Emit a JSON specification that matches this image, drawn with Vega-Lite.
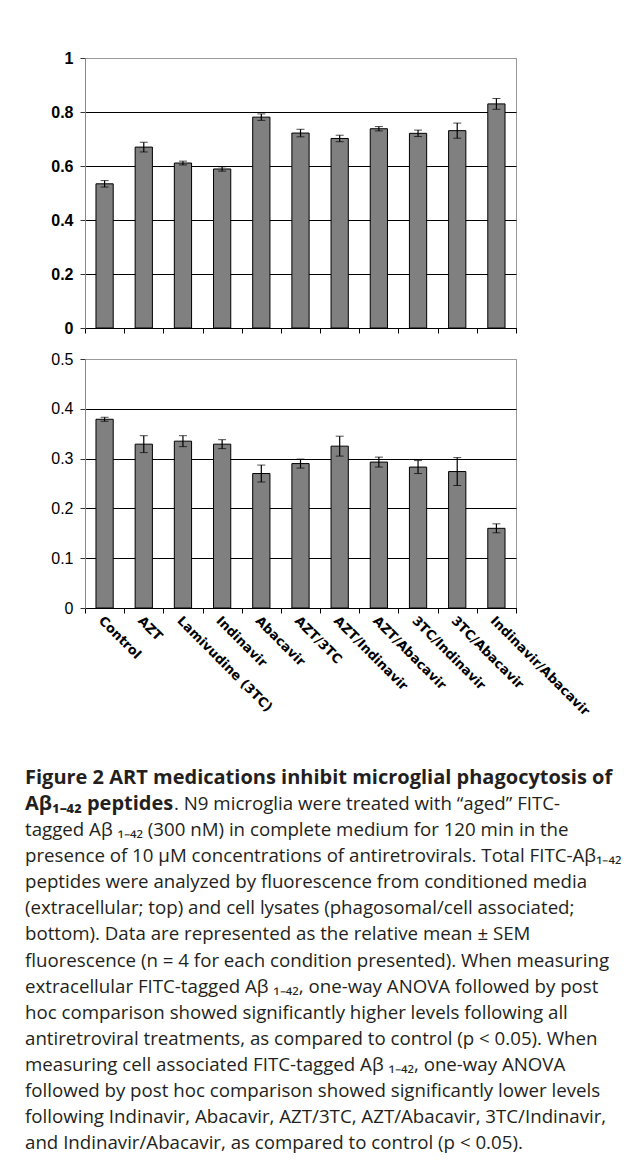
{
  "$schema": "https://vega.github.io/schema/vega-lite/v6.json",
  "background": "white",
  "padding": {"left": 25, "top": 49, "right": 0, "bottom": 0},
  "datasets": {
    "extracellular": [
      {"treatment": "Control", "mean": 0.534, "sem": 0.012},
      {"treatment": "AZT", "mean": 0.670, "sem": 0.018},
      {"treatment": "Lamivudine (3TC)", "mean": 0.611, "sem": 0.007},
      {"treatment": "Indinavir", "mean": 0.589, "sem": 0.008},
      {"treatment": "Abacavir", "mean": 0.781, "sem": 0.012},
      {"treatment": "AZT/3TC", "mean": 0.722, "sem": 0.014},
      {"treatment": "AZT/Indinavir", "mean": 0.702, "sem": 0.012},
      {"treatment": "AZT/Abacavir", "mean": 0.738, "sem": 0.008},
      {"treatment": "3TC/Indinavir", "mean": 0.721, "sem": 0.012},
      {"treatment": "3TC/Abacavir", "mean": 0.731, "sem": 0.028},
      {"treatment": "Indinavir/Abacavir", "mean": 0.830, "sem": 0.020}
    ],
    "cellassociated": [
      {"treatment": "Control", "mean": 0.379, "sem": 0.004},
      {"treatment": "AZT", "mean": 0.329, "sem": 0.017},
      {"treatment": "Lamivudine (3TC)", "mean": 0.335, "sem": 0.011},
      {"treatment": "Indinavir", "mean": 0.329, "sem": 0.009},
      {"treatment": "Abacavir", "mean": 0.270, "sem": 0.017},
      {"treatment": "AZT/3TC", "mean": 0.290, "sem": 0.009},
      {"treatment": "AZT/Indinavir", "mean": 0.325, "sem": 0.020},
      {"treatment": "AZT/Abacavir", "mean": 0.293, "sem": 0.010},
      {"treatment": "3TC/Indinavir", "mean": 0.283, "sem": 0.013},
      {"treatment": "3TC/Abacavir", "mean": 0.274, "sem": 0.028},
      {"treatment": "Indinavir/Abacavir", "mean": 0.160, "sem": 0.009}
    ],
    "caption": [
      {"line": 1, "kind": "title", "text": "Figure 2 ART medications inhibit microglial phagocytosis of"},
      {"line": 2, "kind": "title", "text": "Aβ₁₋₄₂ peptides"},
      {"line": 2, "kind": "cont", "text": ". N9 microglia were treated with “aged” FITC-"},
      {"line": 3, "kind": "body", "text": "tagged Aβ ₁₋₄₂ (300 nM) in complete medium for 120 min in the"},
      {"line": 4, "kind": "body", "text": "presence of 10 µM concentrations of antiretrovirals. Total FITC-Aβ₁₋₄₂"},
      {"line": 5, "kind": "body", "text": "peptides were analyzed by fluorescence from conditioned media"},
      {"line": 6, "kind": "body", "text": "(extracellular; top) and cell lysates (phagosomal/cell associated;"},
      {"line": 7, "kind": "body", "text": "bottom). Data are represented as the relative mean ± SEM"},
      {"line": 8, "kind": "body", "text": "fluorescence (n = 4 for each condition presented). When measuring"},
      {"line": 9, "kind": "body", "text": "extracellular FITC-tagged Aβ ₁₋₄₂, one-way ANOVA followed by post"},
      {"line": 10, "kind": "body", "text": "hoc comparison showed significantly higher levels following all"},
      {"line": 11, "kind": "body", "text": "antiretroviral treatments, as compared to control (p < 0.05). When"},
      {"line": 12, "kind": "body", "text": "measuring cell associated FITC-tagged Aβ ₁₋₄₂, one-way ANOVA"},
      {"line": 13, "kind": "body", "text": "followed by post hoc comparison showed significantly lower levels"},
      {"line": 14, "kind": "body", "text": "following Indinavir, Abacavir, AZT/3TC, AZT/Abacavir, 3TC/Indinavir,"},
      {"line": 15, "kind": "body", "text": "and Indinavir/Abacavir, as compared to control (p < 0.05)."}
    ]
  },
  "concat": [
    {
      "vconcat": [
        {
          "width": 431,
          "height": 270,
          "data": {"name": "extracellular"},
          "encoding": {
            "x": {
              "field": "treatment", "type": "nominal", "sort": null,
              "scale": {"paddingInner": 0, "paddingOuter": 0},
              "axis": {"labels": false, "title": null, "tickBand": "extent", "tickSize": 5, "tickColor": "black", "domainColor": "black", "grid": false}
            }
          },
          "layer": [
            {
              "mark": {"type": "bar", "width": {"band": 0.44}, "fill": "#808080", "stroke": "black", "strokeWidth": 1},
              "encoding": {
                "y": {
                  "field": "mean", "type": "quantitative",
                  "scale": {"domain": [0, 1]},
                  "axis": {
                    "title": null,
                    "values": [0, 0.2, 0.4, 0.6, 0.8, 1], "format": "~g",
                    "grid": true,
                    "gridColor": {"condition": {"test": "datum.value >= 1", "value": "#999999"}, "value": "black"},
                    "domainColor": "#888888", "tickColor": "#333333", "tickSize": 5, "labelPadding": 7,
                    "labelFont": "Liberation Sans", "labelFontWeight": "bold", "labelFontSize": 16, "labelColor": "black"
                  }
                }
              }
            },
            {
              "mark": {"type": "errorbar", "color": "black", "ticks": {"size": 8, "color": "black"}, "rule": {"strokeWidth": 1.2}},
              "encoding": {
                "y": {"field": "mean", "type": "quantitative", "title": null},
                "yError": {"field": "sem"}
              }
            }
          ]
        },
        {
          "width": 431,
          "height": 249,
          "data": {"name": "cellassociated"},
          "encoding": {
            "x": {
              "field": "treatment", "type": "nominal", "sort": null,
              "scale": {"paddingInner": 0, "paddingOuter": 0},
              "axis": {
                "title": null, "tickBand": "extent", "tickSize": 5, "tickColor": "black", "domainColor": "black", "grid": false,
                "labelAngle": 45, "labelFont": "DejaVu Sans", "labelFontWeight": "bold", "labelFontSize": 13, "labelColor": "black", "labelPadding": 1
              }
            }
          },
          "layer": [
            {
              "mark": {"type": "bar", "width": {"band": 0.44}, "fill": "#808080", "stroke": "black", "strokeWidth": 1},
              "encoding": {
                "y": {
                  "field": "mean", "type": "quantitative",
                  "scale": {"domain": [0, 0.5]},
                  "axis": {
                    "title": null,
                    "values": [0, 0.1, 0.2, 0.3, 0.4, 0.5], "format": "~g",
                    "grid": true,
                    "gridColor": {"condition": {"test": "datum.value >= 0.5", "value": "#999999"}, "value": "black"},
                    "domainColor": "#888888", "tickColor": "#333333", "tickSize": 5, "labelPadding": 7,
                    "labelFont": "Liberation Sans", "labelFontWeight": "normal", "labelFontSize": 16, "labelColor": "black"
                  }
                }
              }
            },
            {
              "mark": {"type": "errorbar", "color": "black", "ticks": {"size": 8, "color": "black"}, "rule": {"strokeWidth": 1.2}},
              "encoding": {
                "y": {"field": "mean", "type": "quantitative", "title": null},
                "yError": {"field": "sem"}
              }
            }
          ]
        }
      ],
      "spacing": 13
    },
    {
      "width": 520,
      "height": 391,
      "view": {"stroke": null},
      "data": {"name": "caption"},
      "encoding": {
        "y": {"field": "line", "type": "ordinal", "axis": null, "scale": {"type": "point", "padding": 0.5}},
        "x": {"datum": 0, "type": "quantitative", "axis": null, "scale": {"domain": [0, 1]}},
        "text": {"field": "text"}
      },
      "layer": [
        {
          "transform": [{"filter": "datum.kind === 'title'"}],
          "mark": {"type": "text", "align": "left", "baseline": "middle", "dx": -60, "font": "Open Sans", "fontWeight": "bold", "fontSize": 20, "color": "#231f20"}
        },
        {
          "transform": [{"filter": "datum.kind === 'body'"}],
          "mark": {"type": "text", "align": "left", "baseline": "middle", "dx": -60, "font": "Open Sans", "fontWeight": "normal", "fontSize": 18.7, "color": "#231f20"}
        },
        {
          "transform": [{"filter": "datum.kind === 'cont'"}],
          "mark": {"type": "text", "align": "left", "baseline": "middle", "dx": 89, "font": "Open Sans", "fontWeight": "normal", "fontSize": 18.7, "color": "#231f20"}
        }
      ]
    }
  ],
  "columns": 1,
  "align": "none",
  "spacing": 46,
  "config": {
    "view": {"stroke": "#999999", "strokeWidth": 1}
  }
}
